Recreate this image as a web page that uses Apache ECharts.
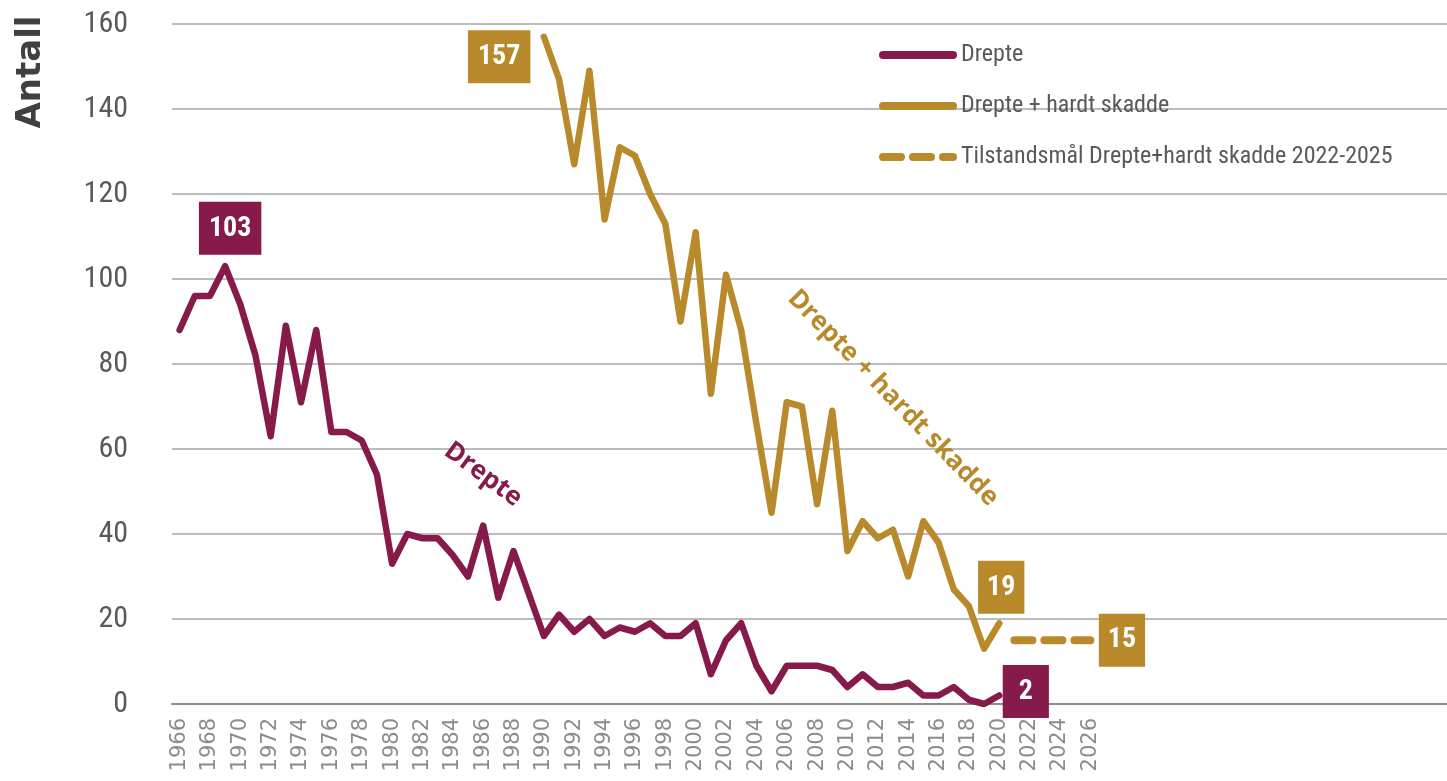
<!DOCTYPE html>
<html>
<head>
<meta charset="utf-8">
<script src="https://cdn.jsdelivr.net/npm/echarts@6/dist/echarts.min.js"></script>
<style>
html,body{margin:0;padding:0;background:#fff;}
#chart{width:1447px;height:781px;}
</style>
</head>
<body>
<div id="chart"></div>
<script>
// ---- data ----
const firstYear = 1966;
const lastAxisYear = 2049;      // axis continues past the last label
const lastLabelYear = 2026;
const drepteStart = 1966;
const drepte = [88,96,96,103,94,82,63,89,71,88,64,64,62,54,33,40,39,39,35,30,42,25,36,26,16,
                21,17,20,16,18,17,19,16,16,19,7,15,19,9,3,9,9,9,8,4,7,4,4,5,2,2,4,1,0,2];
const hardtStart = 1990;
const drepteHardt = [157,147,127,149,114,131,129,120,113,90,111,73,101,88,66,45,71,70,47,69,
                     36,43,39,41,30,43,38,27,23,13,19];
const targetYears = [2021,2022,2023,2024,2025,2026];
const targetValues = [15,15,15,15,15,15];
const yTicks = [0,20,40,60,80,100,120,140,160];

const names = ['Drepte','Drepte + hardt skadde','Tilstandsmål Drepte+hardt skadde 2022-2025'];
const PURPLE = '#861A4A';
const GOLD = '#B88A2C';
const NARROW = "'Liberation Sans Narrow','Roboto Condensed',Roboto,sans-serif";

// ---- build ----
const years = [];
for (let y = firstYear; y <= lastAxisYear; y++) years.push(String(y));

function pad(start, vals) {
  const arr = years.map(() => null);
  vals.forEach((v, i) => { arr[start - firstYear + i] = v; });
  return arr;
}
function boxLabel(color, pos, dist, offset, padH) {
  return {
    show: true, position: pos, distance: dist, offset: offset,
    formatter: '{c}', color: '#fff', fontWeight: 'bold', fontSize: 28,
    fontFamily: NARROW, backgroundColor: color, padding: [13, padH, 12, padH]
  };
}

const dData = pad(drepteStart, drepte);
const hData = pad(hardtStart, drepteHardt);
const tData = years.map(() => null);
targetYears.forEach((y, i) => { tData[y - firstYear] = targetValues[i]; });

// value labels
const iPeak = drepte.indexOf(Math.max(...drepte)) + (drepteStart - firstYear);
dData[iPeak] = { value: dData[iPeak], label: boxLabel(PURPLE, 'top', 11, [5, 0], 10) };
const iDLast = drepteStart - firstYear + drepte.length - 1;
dData[iDLast] = { value: dData[iDLast], label: boxLabel(PURPLE, 'right', 3, [0, -4], 16) };
const iHFirst = hardtStart - firstYear;
hData[iHFirst] = { value: hData[iHFirst], label: boxLabel(GOLD, 'left', 13, [0, 20], 10) };
const iHLast = hardtStart - firstYear + drepteHardt.length - 1;
hData[iHLast] = { value: hData[iHLast], label: boxLabel(GOLD, 'top', 9, [2, 0], 9) };
const iTLast = targetYears[targetYears.length - 1] - firstYear;
tData[iTLast] = { value: tData[iTLast], label: boxLabel(GOLD, 'right', 8, [0, 0], 9) };

const baseSeries = {
  type: 'line', symbol: 'circle', symbolSize: 1, showSymbol: true, connectNulls: false,
  label: { show: false }, z: 3
};

const chart = echarts.init(document.getElementById('chart'));
chart.setOption({
  animation: false,
  backgroundColor: '#fff',
  grid: { left: 172, right: 0, top: 24, bottom: 77, containLabel: false },
  legend: {
    orient: 'vertical', left: 879, top: 43, padding: 0, itemWidth: 70, itemHeight: 8, itemGap: 27,
    textStyle: { fontFamily: NARROW, fontSize: 24, color: '#595959', padding: [0, 0, 0, 3] },
    itemStyle: { opacity: 0 },
    lineStyle: { width: 8, cap: 'round' },
    data: names
  },
  xAxis: {
    type: 'category', data: years, boundaryGap: true,
    axisLine: { lineStyle: { color: '#8c8c8c', width: 2 } },
    axisTick: { show: false },
    axisLabel: {
      rotate: 90, margin: 14, color: '#8c8c8c', fontSize: 21,
      fontFamily: "'DejaVu Sans',sans-serif",
      interval: (idx, val) => (idx % 2 === 0 && Number(val) <= lastLabelYear)
    }
  },
  yAxis: {
    type: 'value', min: yTicks[0], max: yTicks[yTicks.length - 1], interval: 20,
    axisLine: { show: false }, axisTick: { show: false },
    axisLabel: { color: '#595959', fontSize: 30, fontFamily: NARROW, margin: 44 },
    splitLine: { lineStyle: { color: '#a6a6a6', width: 1.5 } }
  },
  series: [
    Object.assign({}, baseSeries, { name: names[0], data: dData,
      lineStyle: { color: PURPLE, width: 6.5, join: 'round', cap: 'round' }, itemStyle: { color: PURPLE } }),
    Object.assign({}, baseSeries, { name: names[1], data: hData,
      lineStyle: { color: GOLD, width: 6.5, join: 'round', cap: 'round' }, itemStyle: { color: GOLD } }),
    Object.assign({}, baseSeries, { name: names[2], data: tData,
      lineStyle: { color: GOLD, width: 8, type: [18, 12], cap: 'round' }, itemStyle: { color: GOLD } })
  ]
});

// annotations positioned through data coordinates
const pD = chart.convertToPixel({ seriesIndex: 0 }, ['1986', 54]);
const pH = chart.convertToPixel({ seriesIndex: 0 }, ['2013', 72]);
chart.setOption({
  graphic: [
    { type: 'text', x: 31, y: 72, rotation: Math.PI / 2, z: 10,
      style: { text: 'Antall', fill: '#404040', font: "bold 34px 'DejaVu Sans', sans-serif", align: 'center', verticalAlign: 'middle' } },
    { type: 'text', x: pD[0], y: pD[1], rotation: -0.64, z: 10,
      style: { text: 'Drepte', fill: PURPLE, font: "bold 26px 'Open Sans', sans-serif", align: 'center', verticalAlign: 'middle' } },
    { type: 'text', x: pH[0], y: pH[1], rotation: -0.8, z: 10,
      style: { text: 'Drepte + hardt skadde', fill: GOLD, font: "bold 26px 'Open Sans', sans-serif", align: 'center', verticalAlign: 'middle' } }
  ]
});
</script>
</body>
</html>
